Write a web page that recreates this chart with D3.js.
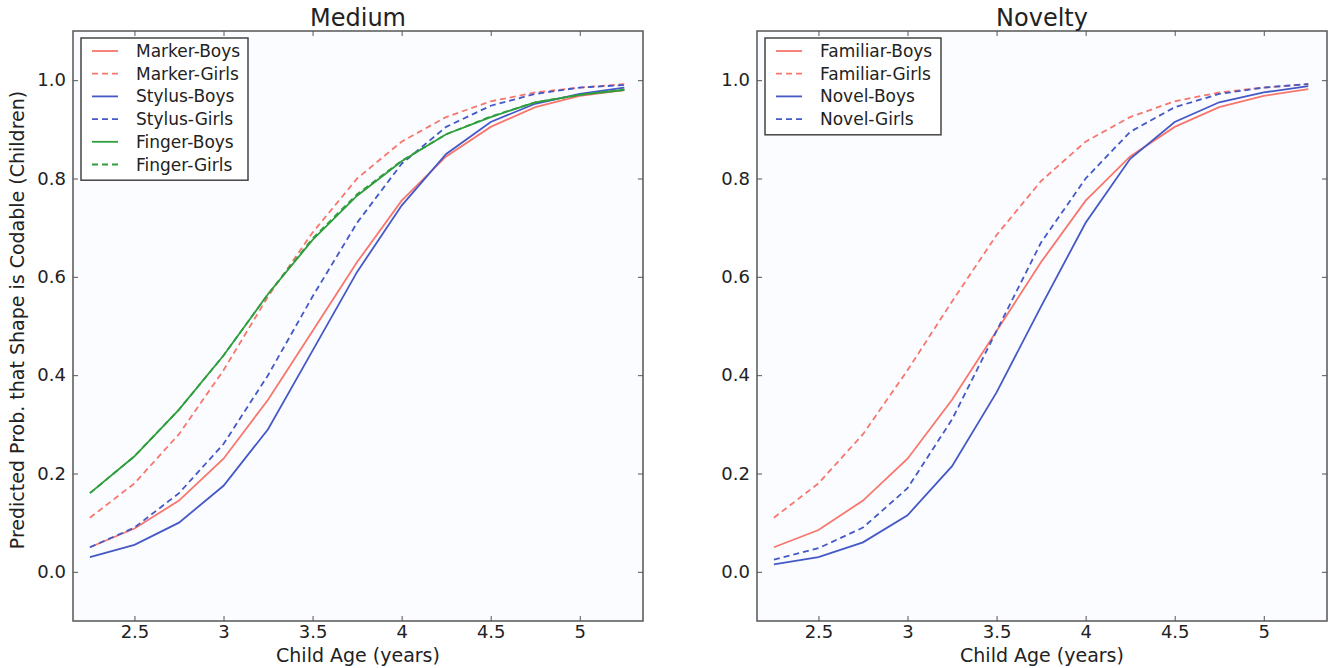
<!DOCTYPE html>
<html>
<head>
<meta charset="utf-8">
<script src="https://cdn.jsdelivr.net/npm/d3@7"></script>
<style>
  body { margin: 0; background: #fff; }
  text { font-family: "DejaVu Sans", sans-serif; fill: #222; }
</style>
</head>
<body>
<svg id="chart" width="1330" height="668"></svg>
<script>
// ages on the x axis
const ages = [2.25, 2.5, 2.75, 3, 3.25, 3.5, 3.75, 4, 4.25, 4.5, 4.75, 5, 5.25];
const xTicks = [2.5, 3, 3.5, 4, 4.5, 5];
const yTicks = [0, 0.2, 0.4, 0.6, 0.8, 1.0];

// Medium panel
const markerBoys  = [0.05, 0.088, 0.145, 0.23, 0.35, 0.49, 0.63, 0.755, 0.845, 0.905, 0.945, 0.968, 0.98];
const markerGirls = [0.11, 0.18, 0.28, 0.41, 0.56, 0.69, 0.80, 0.875, 0.925, 0.957, 0.975, 0.985, 0.992];
const stylusBoys  = [0.03, 0.055, 0.10, 0.175, 0.29, 0.45, 0.61, 0.745, 0.85, 0.915, 0.952, 0.972, 0.985];
const stylusGirls = [0.05, 0.09, 0.16, 0.26, 0.40, 0.56, 0.71, 0.83, 0.905, 0.948, 0.972, 0.985, 0.99];
const fingerBoys  = [0.16, 0.235, 0.33, 0.44, 0.565, 0.675, 0.765, 0.835, 0.89, 0.925, 0.955, 0.97, 0.98];
const fingerGirls = [0.16, 0.235, 0.33, 0.44, 0.565, 0.678, 0.768, 0.836, 0.89, 0.926, 0.955, 0.97, 0.981];

// Novelty panel
const familiarBoys  = [0.05, 0.085, 0.145, 0.23, 0.35, 0.49, 0.63, 0.755, 0.845, 0.905, 0.945, 0.968, 0.982];
const familiarGirls = [0.11, 0.18, 0.28, 0.41, 0.55, 0.685, 0.795, 0.875, 0.925, 0.957, 0.975, 0.985, 0.992];
const novelBoys     = [0.015, 0.03, 0.06, 0.115, 0.215, 0.365, 0.54, 0.71, 0.84, 0.915, 0.955, 0.975, 0.988];
const novelGirls    = [0.025, 0.048, 0.09, 0.17, 0.31, 0.49, 0.67, 0.80, 0.895, 0.945, 0.972, 0.985, 0.992];

const red = "#f7776c", blue = "#4459c6", green = "#2f9e3c";

const panels = [
  {
    title: "Medium", left: 73, right: 643, ylabel: true, legendW: 167,
    series: [
      {name: "Marker-Boys", values: markerBoys, color: red, dash: null},
      {name: "Marker-Girls", values: markerGirls, color: red, dash: "6,4"},
      {name: "Stylus-Boys", values: stylusBoys, color: blue, dash: null},
      {name: "Stylus-Girls", values: stylusGirls, color: blue, dash: "6,4"},
      {name: "Finger-Boys", values: fingerBoys, color: green, dash: null},
      {name: "Finger-Girls", values: fingerGirls, color: green, dash: "6,4"}
    ]
  },
  {
    title: "Novelty", left: 757, right: 1327, ylabel: false, legendW: 176,
    series: [
      {name: "Familiar-Boys", values: familiarBoys, color: red, dash: null},
      {name: "Familiar-Girls", values: familiarGirls, color: red, dash: "6,4"},
      {name: "Novel-Boys", values: novelBoys, color: blue, dash: null},
      {name: "Novel-Girls", values: novelGirls, color: blue, dash: "6,4"}
    ]
  }
];

const svg = d3.select("#chart");
const plotTop = 31, plotBottom = 621;

panels.forEach(p => {
  const x = d3.scaleLinear().domain([2.155, 5.355]).range([p.left, p.right]);
  const y = d3.scaleLinear().domain([-0.1, 1.1]).range([plotBottom, plotTop]);
  const g = svg.append("g");

  g.append("rect")
    .attr("x", p.left).attr("y", plotTop)
    .attr("width", p.right - p.left).attr("height", plotBottom - plotTop)
    .attr("fill", "#fbfcff");

  // inward ticks on all sides, matplotlib classic style
  const xb = g.append("g").attr("transform", `translate(0,${plotBottom})`)
    .call(d3.axisBottom(x).tickValues(xTicks).tickSize(-5).tickPadding(4)
      .tickFormat(d => d3.format("")(d)));
  const xt = g.append("g").attr("transform", `translate(0,${plotTop})`)
    .call(d3.axisTop(x).tickValues(xTicks).tickSize(-5).tickFormat(""));
  const yl = g.append("g").attr("transform", `translate(${p.left},0)`)
    .call(d3.axisLeft(y).tickValues(yTicks).tickSize(-5).tickPadding(7)
      .tickFormat(d3.format(".1f")));
  const yr = g.append("g").attr("transform", `translate(${p.right},0)`)
    .call(d3.axisRight(y).tickValues(yTicks).tickSize(-5).tickFormat(""));
  [xb, xt, yl, yr].forEach(a => {
    a.select(".domain").remove();
    a.selectAll("line").attr("stroke", "#555");
    a.selectAll("text").style("font-size", "18px").attr("fill", "#222");
  });

  const line = d3.line().x((d, i) => x(ages[i])).y(d => y(d));
  p.series.forEach(s => {
    g.append("path")
      .datum(s.values)
      .attr("d", line)
      .attr("fill", "none")
      .attr("stroke", s.color)
      .attr("stroke-width", 1.8)
      .attr("stroke-dasharray", s.dash);
  });

  g.append("rect")
    .attr("x", p.left).attr("y", plotTop)
    .attr("width", p.right - p.left).attr("height", plotBottom - plotTop)
    .attr("fill", "none").attr("stroke", "#555").attr("stroke-width", 1.5);

  g.append("text")
    .attr("x", (p.left + p.right) / 2).attr("y", 26)
    .attr("text-anchor", "middle").style("font-size", "24px")
    .text(p.title);

  g.append("text")
    .attr("x", (p.left + p.right) / 2).attr("y", 662)
    .attr("text-anchor", "middle").style("font-size", "19px")
    .text("Child Age (years)");

  if (p.ylabel) {
    g.append("text")
      .attr("transform", `translate(24,${(plotTop + plotBottom) / 2 - 6}) rotate(-90)`)
      .attr("text-anchor", "middle").style("font-size", "19px")
      .text("Predicted Prob. that Shape is Codable (Children)");
  }

  // legend
  const lx = p.left + 8, ly = 38, rowH = 22.7;
  g.append("rect")
    .attr("x", lx).attr("y", ly)
    .attr("width", p.legendW).attr("height", p.series.length * rowH + 6)
    .attr("fill", "#fff").attr("stroke", "#444").attr("stroke-width", 1.5);
  p.series.forEach((s, i) => {
    const cy = ly + 13 + i * rowH;
    g.append("line")
      .attr("x1", lx + 11).attr("x2", lx + 37)
      .attr("y1", cy).attr("y2", cy)
      .attr("stroke", s.color).attr("stroke-width", 1.8)
      .attr("stroke-dasharray", s.dash);
    g.append("text")
      .attr("x", lx + 55).attr("y", cy + 6)
      .style("font-size", "17px")
      .text(s.name);
  });
});
</script>
</body>
</html>
